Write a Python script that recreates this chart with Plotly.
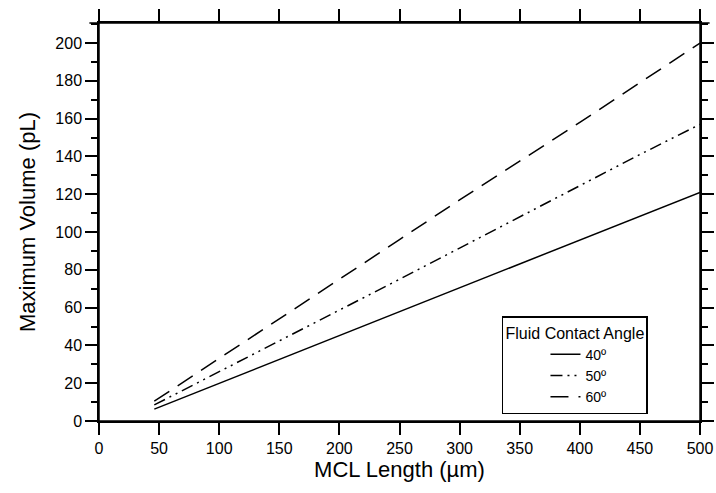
import plotly.graph_objects as go

# MCL length (µm) and maximum droplet volume (pL) for each contact angle
mcl_length = [46, 100, 150, 200, 250, 300, 350, 400, 450, 500]
vol_40 = [6.3, 19.9, 32.5, 45.2, 57.8, 70.4, 83.0, 95.7, 108.3, 121.0]
vol_50 = [8.5, 26.0, 42.5, 58.5, 75.0, 91.5, 108.0, 124.5, 141.0, 157.0]
vol_60 = [10.5, 33.0, 54.0, 75.0, 96.0, 117.0, 137.5, 158.0, 179.0, 200.0]

series_names = ["40º", "50º", "60º"]
x_ticks = [0, 50, 100, 150, 200, 250, 300, 350, 400, 450, 500]
y_ticks = [0, 20, 40, 60, 80, 100, 120, 140, 160, 180, 200]

FONT = "Liberation Sans, Arial, sans-serif"

fig = go.Figure()
fig.add_trace(go.Scatter(x=mcl_length, y=vol_40, mode="lines", name=series_names[0],
                         line=dict(color="black", width=1.5, dash="solid")))
fig.add_trace(go.Scatter(x=mcl_length, y=vol_50, mode="lines", name=series_names[1],
                         line=dict(color="black", width=1.5, dash="12px,5px,2px,5px,2px,5px")))
fig.add_trace(go.Scatter(x=mcl_length, y=vol_60, mode="lines", name=series_names[2],
                         line=dict(color="black", width=1.5, dash="18px,10px")))

axis_common = dict(
    showgrid=False, zeroline=False, showline=True, linecolor="black", linewidth=1.5,
    mirror="ticks", ticks="outside", tickcolor="black", tickwidth=1.5, ticklen=12,
    tickfont=dict(family=FONT, size=16, color="black"), automargin=False,
)

fig.update_xaxes(
    range=[0, 500], tickvals=x_ticks, ticktext=[str(v) for v in x_ticks],
    title=dict(text="MCL Length (µm)", font=dict(family=FONT, size=22, color="black"), standoff=2),
    **axis_common,
)
fig.update_yaxes(
    range=[0, 210.6], tickvals=y_ticks, ticktext=[str(v) for v in y_ticks],
    minor=dict(dtick=10, tick0=0, ticks="outside", ticklen=6, tickcolor="black", tickwidth=1.5),
    title=dict(text="Maximum Volume (pL)", font=dict(family=FONT, size=22, color="black"), standoff=14),
    **axis_common,
)

# Frame lines that run slightly past the plot corners
ox, oy = 0.016, 0.028
for x0, y0, x1, y1 in [(-ox, 1, 1 + ox, 1), (-ox, 0, 1 + ox, 0),
                       (0, -oy, 0, 1 + oy), (1, -oy, 1, 1 + oy)]:
    fig.add_shape(type="line", xref="paper", yref="paper", x0=x0, y0=y0, x1=x1, y1=y1,
                  line=dict(color="black", width=1.5), layer="above")

fig.update_layout(
    width=716, height=493,
    margin=dict(l=99, r=16, t=23, b=72, autoexpand=False),
    paper_bgcolor="white", plot_bgcolor="white",
    font=dict(family=FONT, color="black"),
    legend=dict(
        x=0.6705, y=0.263, xanchor="left", yanchor="top",
        bgcolor="white", bordercolor="black", borderwidth=1.5,
        font=dict(family=FONT, size=14, color="black"),
        title=dict(text="Fluid Contact Angle", side="top center",
                   font=dict(family=FONT, size=16, color="black")),
        indentation=42, tracegroupgap=0, itemwidth=30,
    ),
    showlegend=True,
)

fig.write_html("out.html")
